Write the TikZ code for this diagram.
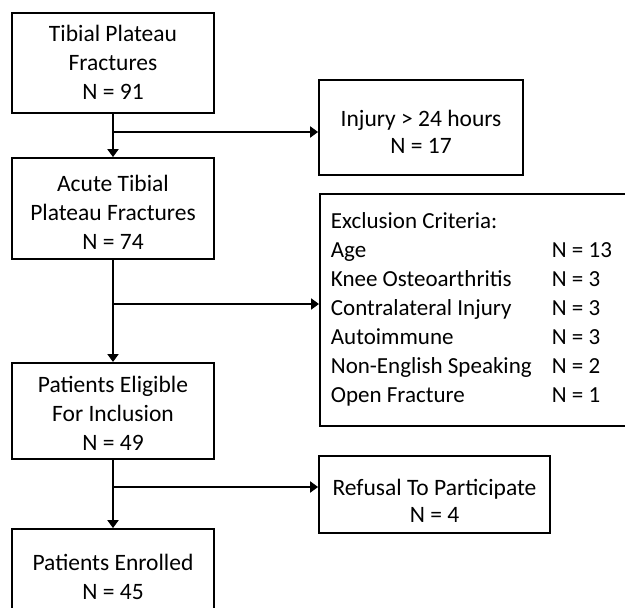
\documentclass[tikz,border=0pt]{standalone}
\usepackage{fontspec}
\setmainfont{Carlito}
\usetikzlibrary{arrows.meta}
\newcommand{\tlines}[2]{\begin{tabular}{@{}c@{}}\rule{0pt}{#1}#2\end{tabular}}
\newcommand{\crit}[1]{\makebox[221pt][l]{#1}}
\begin{document}
\begin{tikzpicture}[x=1pt,y=-1pt,
  box/.style={draw=black, line width=1.8pt, fill=white, inner sep=0pt},
  lbox/.style={box, minimum width=202pt, font=\fontsize{23.5}{29}\selectfont},
  rbox/.style={box, font=\fontsize{23.5}{27}\selectfont},
  arr/.style={draw=black, line width=2.6pt, -{Triangle[length=8pt,width=11pt]}}
]
\useasboundingbox (0,0) rectangle (625,608);
\fill[white] (0,0) rectangle (625,608);
\clip (0,0) rectangle (625,608);

\node[lbox, minimum height=100pt] (b1) at (113,63) {\tlines{24pt}{Tibial Plateau\\Fractures\\N = 91}};
\node[lbox, minimum height=101pt] (b2) at (113,208.5) {\tlines{33pt}{Acute Tibial\\Plateau Fractures\\N = 74}};
\node[lbox, minimum height=96pt] (b3) at (113,411) {\tlines{29.5pt}{Patients Eligible\\For Inclusion\\N = 49}};
\node[lbox, minimum height=96pt] (b4) at (113,577) {\tlines{24pt}{Patients Enrolled\\N = 45}};

\node[rbox, minimum width=204pt, minimum height=95pt] (inj) at (421,127.5) {\tlines{34pt}{Injury > 24 hours\\N = 17}};
\node[rbox, minimum width=231pt, minimum height=77pt] (ref) at (434.5,494.5) {\tlines{37pt}{Refusal To Participate\\N = 4}};
\node[box, font=\fontsize{23}{29}\selectfont, anchor=north west, inner xsep=11pt,
      minimum height=232pt] (exc) at (319,193)
  {\begin{tabular}{@{}l@{}l@{\hspace{40pt}}}
   \multicolumn{2}{@{}l@{\hspace{40pt}}}{Exclusion Criteria:}\\
   \crit{Age} & N = 13\\
   \crit{Knee Osteoarthritis} & N = 3\\
   \crit{Contralateral Injury} & N = 3\\
   \crit{Autoimmune} & N = 3\\
   \crit{Non-English Speaking} & N = 2\\
   \crit{Open Fracture} & N = 1
   \end{tabular}};

\coordinate (j1) at (113,132);
\coordinate (j2) at (113,304);
\coordinate (j3) at (113,487);

\draw[arr] (b1) -- (b2);
\draw[arr] (j1) -- (j1 -| inj.west);
\draw[arr] (b2) -- (b3);
\draw[arr] (j2) -- (j2 -| exc.west);
\draw[arr] (b3) -- (b4);
\draw[arr] (j3) -- (j3 -| ref.west);
\end{tikzpicture}
\end{document}
